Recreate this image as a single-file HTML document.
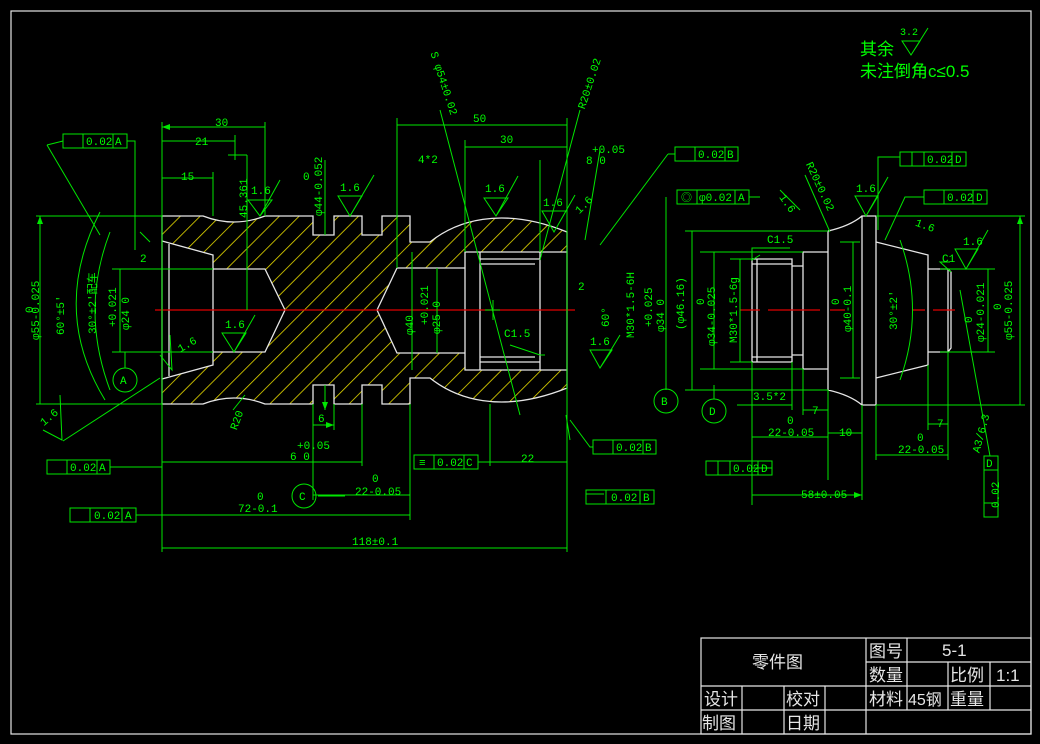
<!DOCTYPE html>
<html><head><meta charset="utf-8"><style>
html,body{margin:0;padding:0;background:#000;}
svg{display:block}
text{font-family:"Liberation Mono","Noto Sans CJK SC",monospace;fill:#00ff00;font-size:11px}
.w{stroke:#e6e6e6;stroke-width:1.3;fill:none}
.g{stroke:#00e600;stroke-width:1;fill:none}
.t{fill:#e6e6e6;font-family:"Liberation Sans","Noto Sans CJK SC",sans-serif;font-size:17px}
</style></head><body>
<svg width="1040" height="744" viewBox="0 0 1040 744" xmlns="http://www.w3.org/2000/svg">
<defs>
<pattern id="h" patternUnits="userSpaceOnUse" width="14" height="14" patternTransform="rotate(45)">
<line x1="0" y1="0" x2="0" y2="14" stroke="#e8dc00" stroke-width="1.6"/>
</pattern>
<marker id="a" markerWidth="8" markerHeight="6" refX="8" refY="3" orient="auto-start-reverse" markerUnits="userSpaceOnUse"><path d="M0,0 L8,3 L0,6z" fill="#00e600"/></marker>
</defs>
<rect x="11" y="11" width="1020" height="723" fill="none" stroke="#e6e6e6" stroke-width="1.2"/>

<!-- hatched section -->
<path fill="url(#h)" fill-rule="evenodd" d="M162,216 L203,216 Q234,228 265,216 L313,216 L313,235 L334,235 L334,216 L362,216 L362,235 L382,235 L382,216 L410,216 L410,242 L430,242 C455,222 500,205 567,232 L567,388 C500,415 455,398 430,378 L410,378 L410,404 L382,404 L382,385 L362,385 L362,404 L334,404 L334,385 L313,385 L313,404 L265,404 Q234,392 203,404 L162,404 Z M162,241 L213,255 L213,269 L265,269 L285,310 L265,352 L213,352 L213,365 L162,379 Z M377,310 L397,268 L465,268 L465,252 L567,252 L567,370 L465,370 L465,353 L397,353 Z"/>
<path class="w" d="M162,216 L203,216 Q234,228 265,216 L313,216 L313,235 L334,235 L334,216 L362,216 L362,235 L382,235 L382,216 L410,216 L410,242 L430,242 C455,222 500,205 567,232 L567,388 C500,415 455,398 430,378 L410,378 L410,404 L382,404 L382,385 L362,385 L362,404 L334,404 L334,385 L313,385 L313,404 L265,404 Q234,392 203,404 L162,404 Z"/>
<path class="w" d="M162,241 L213,255 L213,269 L265,269 L285,310 L265,352 L213,352 L213,365 L162,379 M169,244 L169,376 M213,269 L213,352 M377,310 L397,268 L465,268 L465,252 L567,252 M567,370 L465,370 L465,353 L397,353 L377,310 M465,252 L465,370 M480,252 L480,370 M480,259 L540,259 L540,362 L480,362 M540,252 L540,370 M480,264 L535,264 M480,357 L535,357"/>

<!-- right part -->
<path class="w" d="M752,259 L792,259 L792,362 L752,362 Z M752,264 L792,264 M752,357 L792,357 M757,259 L757,362 M792,266 L803,266 M792,355 L803,355 M803,252 L828,252 L828,369 L803,369 Z M828,231 L828,390 M828,231 Q850,226 862,216 M828,390 Q850,395 862,405 M862,216 L876,216 L876,405 L862,405 Z M876,242 L928,255 L928,365 L876,378 M928,269 L948,269 L951,272 L951,348 L948,352 L928,352 M948,269 L948,352"/>

<!-- center lines -->
<path d="M155,310 L575,310 M740,310 L760,310 M768,310 L820,310 M830,310 L845,310 M912,310 L925,310 M933,310 L955,310" stroke="#e00000" stroke-width="1.2"/>

<g class="g">
<path d="M162,122 L162,552 M265,122 L265,216 M213,172 L213,216 M567,118 L567,552 M397,118 L397,268 M410,404 L410,520 M362,404 L362,466 M313,404 L313,500 M334,404 L334,430 M465,140 L465,252 M540,160 L540,252 M490,404 L490,466"/>
<path marker-start="url(#a)" marker-end="url(#a)" d="M162,127 L265,127 M162,141 L235,141 M162,178 L213,178 M162,462 L362,462 M313,495 L410,495 M162,515 L410,515 M162,548 L567,548 M397,125 L567,125 M465,147 L567,147 M490,462 L567,462 M247,155 L247,310 M313,425 L334,425"/>
<path d="M235,135 L235,160 M228,155 L247,155"/>
<path marker-start="url(#a)" marker-end="url(#a)" d="M40,216 L40,404 M120,269 L120,352 M412,252 L412,370 M437,268 L437,353 M325,160 L325,235 M325,385 L325,410"/>
<path d="M36,216 L162,216 M36,404 L162,404 M112,269 L213,269 M112,352 L213,352"/>
<path d="M100,212 Q50,310 105,400 M110,232 Q80,310 110,390"/>
<path d="M47,145 L63,141 M47,145 L100,235 M63,441 L160,378 M140,232 L150,242"/>
<path d="M127,141 L135,141 L135,250"/>
<path marker-start="url(#a)" marker-end="url(#a)" d="M1020,216 L1020,405 M988,269 L988,352 M853,242 L853,378 M714,252 L714,369 M740,259 L740,362 M692,231 L692,390 M737,405 L792,405 M803,410 L828,410 M752,437 L828,437 M828,433 L862,433 M928,424 L948,424 M876,455 L948,455 M752,495 L862,495"/>
<path d="M876,216 L1025,216 M876,405 L1025,405 M940,269 L995,269 M940,352 L995,352 M840,242 L860,242 M840,378 L860,378 M700,252 L803,252 M700,369 L803,369 M730,259 L752,259 M730,362 L752,362 M685,231 L828,231 M685,390 L828,390 M752,362 L752,505 M792,362 L792,410 M803,369 L803,415 M828,390 L828,480 M862,405 L862,500 M876,405 L876,460 M928,365 L928,430 M948,352 L948,460"/>
<path d="M900,240 Q925,310 900,380"/>
<path d="M440,110 L520,415 M580,110 L540,260 M600,150 L585,240 M668,154 L600,245 M675,154 L668,154 M666,197 L666,390 M570,420 L590,447 L593,447 M493,300 L493,320 M485,310 L500,310 M510,345 L540,355 L545,355 M780,190 L800,210 M805,175 L830,232 M900,157 L878,157 L878,230 M924,197 L905,197 L885,240 M950,262 L940,262 L951,272 M960,290 L990,456 M760,255 L752,260 L752,248 L790,248 M233,410 L245,395 M566,415 L570,440 M604,494 L586,494"/>
<path d="M248,200 L272,200 L260,216 Z M260,216 L280,180 M338,196 L362,196 L350,216 Z M350,216 L374,175 M484,198 L508,198 L496,216 Z M496,216 L518,176 M542,211 L566,211 L554,232 Z M554,232 L575,195 M222,333 L246,333 L234,352 Z M234,352 L255,315 M855,196 L878,196 L866,216 Z M866,216 L888,177 M955,249 L978,249 L966,269 Z M966,269 L988,230 M590,350 L612,350 L600,368 Z M600,368 L620,335 M902,41 L920,41 L911,55 Z M911,55 L928,28 M160,355 L172,370 L170,335 M43,430 L62,440 L60,395"/>
<circle cx="125" cy="380" r="12"/><circle cx="666" cy="401" r="12"/><circle cx="304" cy="496" r="12"/><circle cx="714" cy="411" r="12"/>
<path d="M125,368 L125,352 M666,389 L666,372 M318,496 L345,496 M714,399 L714,385"/>
<path d="M63,134 h64 v14 h-64z M83,134 v14 M113,134 v14 M47,460 h63 v14 h-63z M67,460 v14 M97,460 v14 M70,508 h66 v14 h-66z M90,508 v14 M122,508 v14 M675,147 h63 v14 h-63z M695,147 v14 M725,147 v14 M593,440 h63 v14 h-63z M613,440 v14 M643,440 v14 M586,490 h68 v14 h-68z M606,490 v14 M640,490 v14 M414,455 h64 v14 h-64z M434,455 v14 M464,455 v14 M677,190 h72 v14 h-72z M697,190 v14 M735,190 v14 M900,152 h66 v14 h-66z M912,152 v14 M924,152 v14 M952,152 v14 M924,190 h63 v14 h-63z M944,190 v14 M973,190 v14 M706,461 h66 v14 h-66z M718,461 v14 M730,461 v14 M758,461 v14 M984,456 h14 v61 h-14z M984,503 h14 M984,470 h14 M110,467 L162,467 M136,515 L162,515 M478,462 L490,462 M749,197 L760,197 M772,468 L752,468"/>
</g>

<text x="215" y="126">30</text><text x="195" y="145">21</text><text x="181" y="180">15</text>
<text x="140" y="262">2</text><text x="578" y="290">2</text>
<text x="473" y="122">50</text><text x="500" y="143">30</text>
<text x="418" y="163">4*2</text><text x="592" y="153">+0.05</text><text x="586" y="164">8 0</text>
<text x="318" y="422">6</text><text x="297" y="449">+0.05</text><text x="290" y="460">6 0</text>
<text x="372" y="482">0</text><text x="355" y="495">22-0.05</text>
<text x="257" y="500">0</text><text x="238" y="512">72-0.1</text>
<text x="352" y="545">118±0.1</text><text x="521" y="462">22</text>
<text x="504" y="337">C1.5</text><text x="767" y="243">C1.5</text><text x="942" y="262">C1</text>
<text x="753" y="400">3.5*2</text><text x="812" y="414">7</text>
<text x="787" y="424">0</text><text x="768" y="436">22-0.05</text><text x="839" y="436">10</text>
<text x="937" y="427">7</text><text x="917" y="441">0</text><text x="898" y="453">22-0.05</text>
<text x="801" y="498">58±0.05</text>
<text x="120" y="384">A</text><text x="661" y="405">B</text><text x="299" y="500">C</text><text x="709" y="415">D</text>
<text x="251" y="194">1.6</text><text x="340" y="191">1.6</text><text x="485" y="192">1.6</text><text x="543" y="206">1.6</text>
<text x="225" y="328">1.6</text><text x="590" y="345">1.6</text><text x="856" y="192">1.6</text><text x="963" y="245">1.6</text>
<text x="915" y="229" transform="rotate(20 925 226)">1.6</text>
<text x="178" y="352" transform="rotate(-30 180 348)">1.6</text>
<text x="40" y="424" transform="rotate(-40 45 420)">1.6</text>
<text x="575" y="212" transform="rotate(-45 580 208)">1.6</text>
<text x="780" y="205" transform="rotate(55 787 200)">1.6</text>
<text x="86" y="145">0.02</text><text x="115" y="145">A</text>
<text x="70" y="471">0.02</text><text x="99" y="471">A</text>
<text x="94" y="519">0.02</text><text x="125" y="519">A</text>
<text x="698" y="158">0.02</text><text x="727" y="158">B</text>
<text x="616" y="451">0.02</text><text x="645" y="451">B</text>
<text x="611" y="501">0.02</text><text x="643" y="501">B</text>
<text x="437" y="466">0.02</text><text x="466" y="466">C</text><text x="419" y="466">≡</text>
<text x="681" y="201">◎</text><text x="699" y="201">φ0.02</text><text x="738" y="201">A</text>
<text x="927" y="163">0.02</text><text x="955" y="163">D</text>
<text x="947" y="201">0.02</text><text x="976" y="201">D</text>
<text x="733" y="472">0.02</text><text x="761" y="472">D</text>
<g transform="rotate(-90 995 486)"><text x="973" y="490">0.02</text></g>
<text x="986" y="467">D</text>
<g transform="rotate(-90 35 310)"><text x="5" y="314">φ55-0.025</text></g>
<text x="24" y="316" transform="rotate(-90 27 310)">0</text>
<g transform="rotate(-90 60 310)"><text x="35" y="314">60°±5′</text></g>
<g transform="rotate(-90 92 300)"><text x="58" y="304">30°±2′配车</text></g>
<g transform="rotate(-90 112 300)"><text x="85" y="304">+0.021</text></g>
<g transform="rotate(-90 125 305)"><text x="100" y="309">φ24 0</text></g>
<g transform="rotate(-90 243 195)"><text x="220" y="199">45.361</text></g>
<g transform="rotate(-90 318 188)"><text x="290" y="192">φ44-0.052</text></g>
<text x="303" y="180">0</text>
<g transform="rotate(-90 409 322)"><text x="396" y="326">φ40</text></g>
<g transform="rotate(-90 424 305)"><text x="404" y="309">+0.021</text></g>
<g transform="rotate(-90 436 312)"><text x="414" y="316">φ25 0</text></g>
<g transform="rotate(-90 630 310)"><text x="602" y="314">M30*1.5-6H</text></g>
<g transform="rotate(-90 648 304)"><text x="625" y="308">+0.025</text></g>
<g transform="rotate(-90 660 310)"><text x="638" y="314">φ34 0</text></g>
<g transform="rotate(-90 605 312)"><text x="590" y="316">60°</text></g>
<g transform="rotate(-90 680 300)"><text x="650" y="304">(φ46.16)</text></g>
<g transform="rotate(-90 700 300)"><text x="695" y="304">0</text></g>
<g transform="rotate(-90 711 315)"><text x="680" y="319">φ34-0.025</text></g>
<g transform="rotate(-90 733 310)"><text x="700" y="314">M30*1.5-6g</text></g>
<g transform="rotate(-90 835 300)"><text x="830" y="304">0</text></g>
<g transform="rotate(-90 847 310)"><text x="825" y="314">φ40-0.1</text></g>
<g transform="rotate(-90 893 310)"><text x="873" y="314">30°±2′</text></g>
<g transform="rotate(-90 968 318)"><text x="963" y="322">0</text></g>
<g transform="rotate(-90 980 312)"><text x="950" y="316">φ24-0.021</text></g>
<g transform="rotate(-90 997 305)"><text x="992" y="309">0</text></g>
<g transform="rotate(-90 1008 310)"><text x="978" y="314">φ55-0.025</text></g>
<g transform="rotate(-75 980 435)"><text x="962" y="439">A3/6.3</text></g>
<g transform="rotate(72 445 85)"><text x="410" y="89">S φ54±0.02</text></g>
<g transform="rotate(-72 590 80)"><text x="560" y="84">R20±0.02</text></g>
<g transform="rotate(65 820 185)"><text x="795" y="189">R20±0.02</text></g>
<g transform="rotate(-70 237 418)"><text x="225" y="422">R20</text></g>
<text x="900" y="35" style="font-size:10px">3.2</text>
<text x="860" y="55" style="font-size:17px;font-family:'Liberation Sans','Noto Sans CJK SC',sans-serif">其余</text>
<text x="860" y="77" style="font-size:17px;font-family:'Liberation Sans','Noto Sans CJK SC',sans-serif">未注倒角c≤0.5</text>

<g stroke="#e6e6e6" stroke-width="1.2" fill="none">
<rect x="701" y="638" width="330" height="96"/>
<path d="M701,686 H866 M701,710 H866 M742,686 V734 M784,686 V734 M825,686 V734 M866,638 V734 M866,662 H1031 M866,686 H1031 M866,710 H1031 M907,638 V710 M948,662 V710 M990,662 V710"/>
</g>
<text class="t" x="752" y="668">零件图</text>
<text class="t" x="869" y="657">图号</text><text class="t" x="942" y="656">5-1</text>
<text class="t" x="869" y="681">数量</text><text class="t" x="950" y="681">比例</text><text class="t" x="996" y="681">1:1</text>
<text class="t" x="869" y="705">材料</text><text class="t" x="908" y="705" style="font-size:16px">45钢</text><text class="t" x="950" y="705">重量</text>
<text class="t" x="704" y="705">设计</text><text class="t" x="786" y="705">校对</text>
<text class="t" x="702" y="729">制图</text><text class="t" x="786" y="729">日期</text>
</svg>
</body></html>
